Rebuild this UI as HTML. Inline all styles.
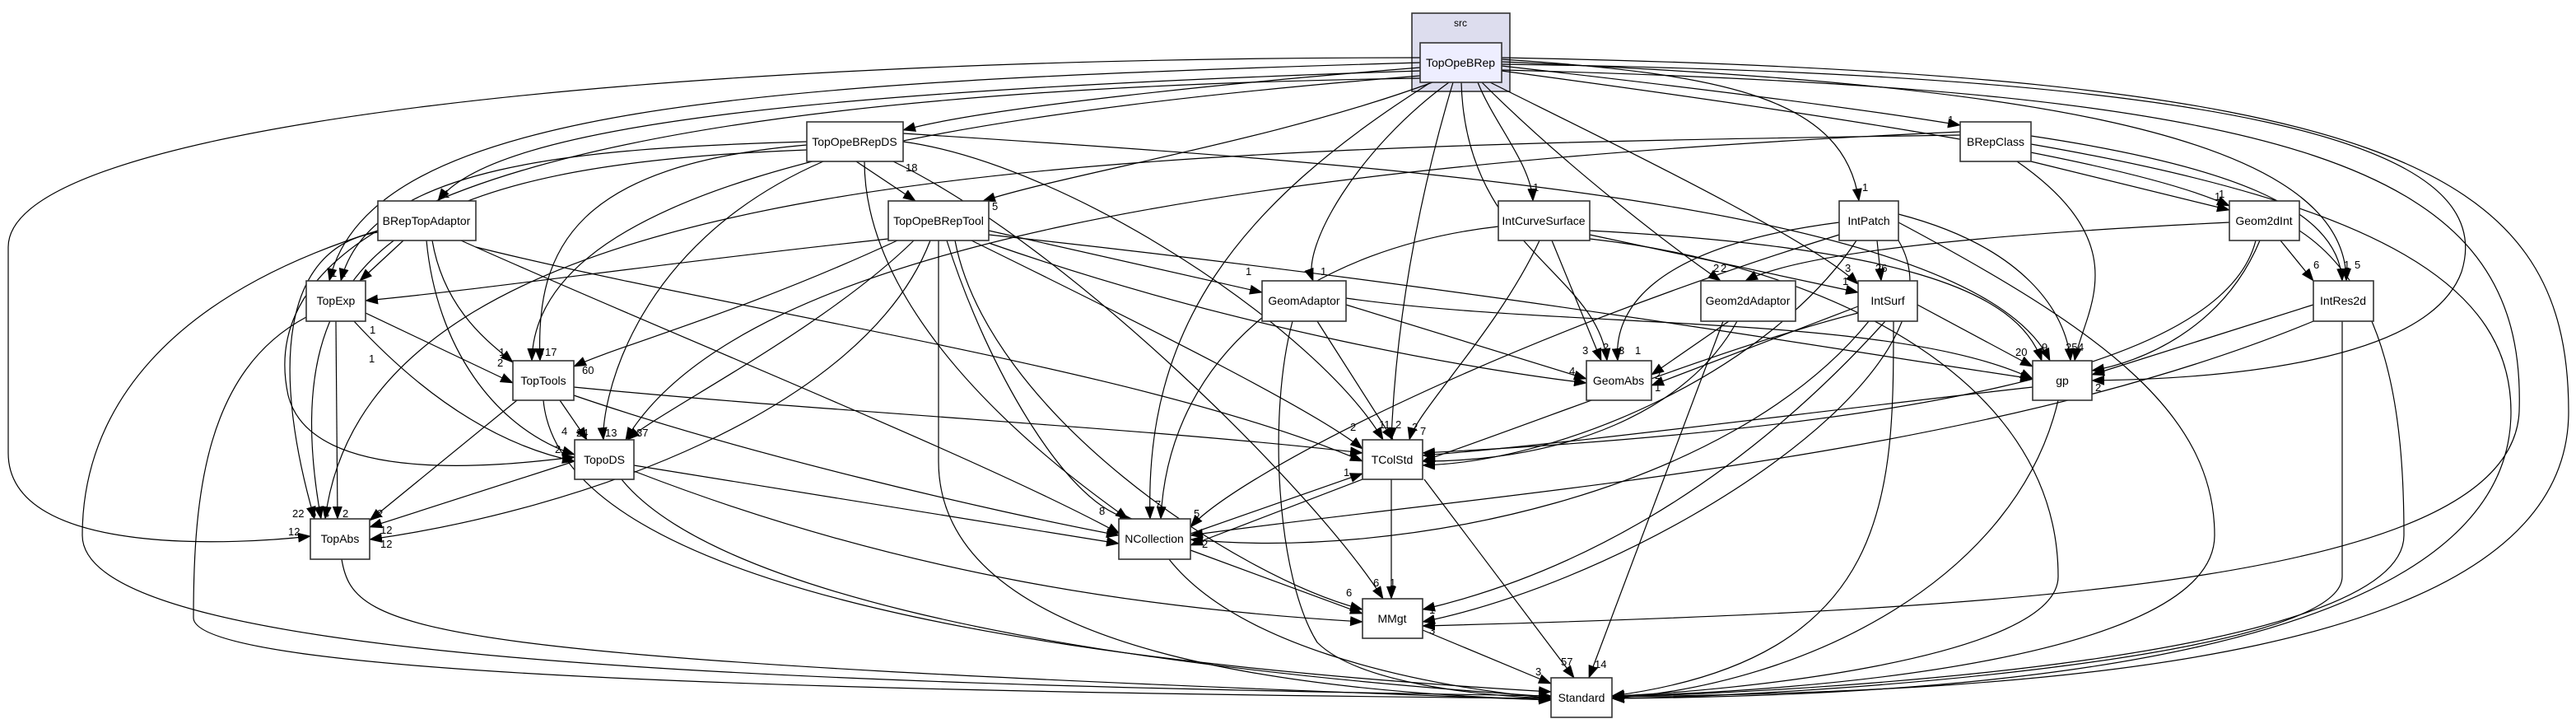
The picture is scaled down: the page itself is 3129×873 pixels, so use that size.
<!DOCTYPE html>
<html><head><meta charset="utf-8"><style>
html,body{margin:0;padding:0;background:#fff;}
svg{display:block;}
text{font-family:"Liberation Sans",Arial,sans-serif;}
.n{fill:#fff;stroke:#333;stroke-width:1.6;}
.t{font-size:14px;text-anchor:middle;dominant-baseline:central;fill:#000;}
.e{fill:none;stroke:#000;stroke-width:1.2;marker-end:url(#a);}
.l{font-size:13px;fill:#000;}
</style></head><body>
<svg width="3129" height="873" viewBox="0 0 3129 873" xmlns="http://www.w3.org/2000/svg">
<defs><marker id="a" markerUnits="userSpaceOnUse" markerWidth="16" markerHeight="12" refX="15" refY="6" orient="auto"><path d="M0,0 L16,6 L0,12 z" fill="#000"/></marker></defs>

<rect x="1715" y="16" width="119" height="95" fill="#ddddee" stroke="#333" stroke-width="1.6"/>
<text x="1774" y="28" class="t" style="font-size:12px">src</text>

<g>
<!-- TopOpeBRep edges -->
<path class="e" d="M1725,82 C1500,100 1200,130 1097,158"/>
<path class="e" d="M1824,80 C2000,100 2250,130 2381,152"/>
<path class="e" d="M1740,100 C1550,170 1300,210 1194,244"/>
<path class="e" d="M1795,100 C1815,150 1860,200 1862,244"/>
<path class="e" d="M1824,72 C2100,90 2240,120 2258,244"/>
<path class="e" d="M1824,86 C2300,150 2600,200 2708,250"/>
<path class="e" d="M1760,100 C1650,180 1580,300 1595,341"/>
<path class="e" d="M1800,100 C1900,200 2030,300 2090,341"/>
<path class="e" d="M1810,100 C1950,170 2200,290 2257,345"/>
<path class="e" d="M1824,75 C2400,100 2850,150 2850,341"/>
<path class="e" d="M1775,100 C1780,300 1940,330 1952,438"/>
<path class="e" d="M1824,78 C2700,90 3040,170 2990,330 C2950,440 2700,460 2541,462"/>
<path class="e" d="M1765,100 C1720,250 1695,400 1690,534"/>
<path class="e" d="M1738,100 C1500,250 1390,400 1397,630"/>
<path class="e" d="M1824,85 C2800,110 3070,200 3060,500 C3050,700 2500,740 1728,760"/>
<path class="e" d="M1824,70 C2900,90 3120,200 3120,500 C3120,800 2500,840 1958,846"/>
<path class="e" d="M1725,70 C800,70 10,150 10,300 L10,550 C10,680 300,660 377,651"/>
<path class="e" d="M1725,76 C900,100 450,130 400,341"/>
<path class="e" d="M1725,86 C1000,110 600,150 532,244"/>
<path class="e" d="M1725,92 C1000,150 650,250 646,438"/>
<path class="e" d="M1725,95 C700,110 300,250 350,480 C380,600 650,560 698,555"/>
<!-- DS -->
<path class="e" d="M1040,196 L1112,244"/>
<path class="e" d="M980,172 C700,180 450,200 414,341"/>
<path class="e" d="M980,176 C700,200 650,300 656,438"/>
<path class="e" d="M1000,196 C760,300 730,500 733,534"/>
<path class="e" d="M980,182 C500,200 330,300 390,630"/>
<path class="e" d="M1050,196 C1050,400 1300,580 1370,630"/>
<path class="e" d="M1097,172 C1300,200 1600,400 1680,534"/>
<path class="e" d="M1085,196 C1300,300 1600,600 1680,727"/>
<path class="e" d="M1097,162 C1700,200 2400,250 2490,438"/>
<!-- BTA -->
<path class="e" d="M490,292 L437,341"/>
<path class="e" d="M525,292 C540,380 600,420 623,440"/>
<path class="e" d="M518,292 C530,420 600,520 698,552"/>
<path class="e" d="M459,282 C340,300 330,450 382,630"/>
<path class="e" d="M560,292 C800,400 1200,560 1360,648"/>
<path class="e" d="M578,300 C900,380 1400,450 1655,560"/>
<path class="e" d="M459,280 C200,360 100,500 100,650 C100,800 900,830 1884,845"/>
<!-- BC -->
<path class="e" d="M2381,160 C1500,200 900,300 760,534"/>
<path class="e" d="M2381,164 C1300,180 450,200 395,630"/>
<path class="e" d="M2450,196 C2600,300 2530,380 2520,438"/>
<path class="e" d="M2467,196 L2708,255"/>
<path class="e" d="M2467,165 C2700,200 2840,250 2845,341"/>
<path class="e" d="M2467,175 C2900,250 3050,350 3050,500 C3050,800 2400,845 1958,848"/>
<!-- TT -->
<path class="e" d="M1079,290 C800,320 600,350 444,365"/>
<path class="e" d="M1090,292 C900,380 750,420 697,445"/>
<path class="e" d="M1110,292 C1000,400 800,500 762,534"/>
<path class="e" d="M1130,292 C1050,500 700,620 449,655"/>
<path class="e" d="M1150,292 C1200,450 1300,620 1375,630"/>
<path class="e" d="M1180,292 C1400,400 1600,500 1655,545"/>
<path class="e" d="M1201,280 L1533,355"/>
<path class="e" d="M1201,295 C1500,400 1800,450 1927,465"/>
<path class="e" d="M1201,285 C1800,350 2200,420 2469,460"/>
<path class="e" d="M1160,292 C1200,500 1500,700 1655,740"/>
<path class="e" d="M1140,292 L1140,560 C1140,800 1600,840 1884,850"/>
<!-- ICS -->
<path class="e" d="M1820,275 C1600,300 1420,420 1410,630"/>
<path class="e" d="M1870,292 C1820,400 1720,500 1712,534"/>
<path class="e" d="M1885,292 L1945,438"/>
<path class="e" d="M1931,285 L2257,355"/>
<path class="e" d="M1931,280 C2300,300 2450,350 2480,438"/>
<path class="e" d="M1931,290 C2200,320 2500,450 2500,700 C2500,800 2100,840 1958,845"/>
<!-- GA -->
<path class="e" d="M1635,370 L1927,460"/>
<path class="e" d="M1600,390 L1692,534"/>
<path class="e" d="M1635,362 C1900,400 2300,380 2469,460"/>
<path class="e" d="M1570,390 C1540,500 1550,700 1600,780 C1650,830 1800,845 1884,848"/>
<!-- G2A -->
<path class="e" d="M2100,390 L2006,455"/>
<path class="e" d="M2110,390 C2050,500 1900,560 1728,560"/>
<path class="e" d="M2093,390 L1930,823"/>
<!-- IP -->
<path class="e" d="M2234,270 C2000,300 1960,380 1965,438"/>
<path class="e" d="M2280,292 L2285,341"/>
<path class="e" d="M2306,260 C2460,300 2510,380 2515,438"/>
<path class="e" d="M2234,285 C1800,420 1500,580 1446,640"/>
<path class="e" d="M2255,292 C2150,450 1900,560 1728,565"/>
<path class="e" d="M2306,292 C2400,450 2000,700 1728,755"/>
<path class="e" d="M2306,270 C2550,400 2690,500 2690,650 C2690,800 2200,840 1958,845"/>
<!-- IS -->
<path class="e" d="M2329,370 L2469,445"/>
<path class="e" d="M2270,390 C2100,600 1700,680 1446,655"/>
<path class="e" d="M2257,380 C2100,420 1900,500 1728,560"/>
<path class="e" d="M2290,390 C2100,600 1900,700 1728,740"/>
<path class="e" d="M2300,390 C2300,600 2300,800 1958,845"/>
<path class="e" d="M2257,372 L2006,468"/>
<!-- G2I -->
<path class="e" d="M2770,292 L2810,341"/>
<path class="e" d="M2745,292 C2700,400 2600,440 2541,450"/>
<path class="e" d="M2740,292 C2700,450 2300,520 1728,550"/>
<path class="e" d="M2708,270 C2500,280 2200,300 2120,341"/>
<path class="e" d="M2793,280 C2900,350 2920,500 2920,650 C2920,800 2200,840 1958,846"/>
<!-- IR -->
<path class="e" d="M2810,370 L2541,455"/>
<path class="e" d="M2810,390 C2400,560 1800,600 1446,650"/>
<path class="e" d="M2845,390 L2845,700 C2845,800 2200,845 1958,848"/>
<!-- gp -->
<path class="e" d="M2469,470 C2200,500 1900,540 1728,553"/>
<path class="e" d="M2500,486 C2450,700 2200,830 1958,848"/>
<!-- TE -->
<path class="e" d="M444,380 L623,465"/>
<path class="e" d="M430,390 C550,520 650,550 698,560"/>
<path class="e" d="M408,390 L410,630"/>
<path class="e" d="M372,385 C250,450 235,600 235,750 C235,820 1000,840 1884,848"/>
<!-- TTo -->
<path class="e" d="M680,486 L713,534"/>
<path class="e" d="M628,486 L449,632"/>
<path class="e" d="M697,470 C1000,500 1400,520 1655,550"/>
<path class="e" d="M697,480 C900,550 1200,620 1359,650"/>
<path class="e" d="M660,486 C680,700 1200,800 1884,840"/>
<!-- TopoDS -->
<path class="e" d="M698,560 L449,640"/>
<path class="e" d="M770,565 L1359,660"/>
<path class="e" d="M770,572 C1100,700 1400,740 1655,755"/>
<path class="e" d="M755,582 C850,700 1200,800 1884,846"/>
<!-- misc -->
<path class="e" d="M415,679 C430,770 500,800 1884,850"/>
<path class="e" d="M1446,648 L1655,575"/>
<path class="e" d="M1655,582 L1446,662"/>
<path class="e" d="M1446,668 L1655,745"/>
<path class="e" d="M1420,679 C1500,780 1700,830 1884,848"/>
<path class="e" d="M1690,582 L1690,727"/>
<path class="e" d="M1730,582 L1912,823"/>
<path class="e" d="M1728,765 L1884,830"/>
</g>

<!-- nodes -->
<rect class="n" x="1725" y="52" width="99" height="48" style="fill:#eeeeff"/><text class="t" x="1774" y="76">TopOpeBRep</text>
<rect class="n" x="980" y="148" width="117" height="48"/><text class="t" x="1038" y="172">TopOpeBRepDS</text>
<rect class="n" x="2381" y="148" width="86" height="48"/><text class="t" x="2424" y="172">BRepClass</text>
<rect class="n" x="459" y="244" width="119" height="48"/><text class="t" x="518" y="268">BRepTopAdaptor</text>
<rect class="n" x="1079" y="244" width="122" height="48"/><text class="t" x="1140" y="268">TopOpeBRepTool</text>
<rect class="n" x="1820" y="244" width="111" height="48"/><text class="t" x="1875" y="268">IntCurveSurface</text>
<rect class="n" x="2234" y="244" width="72" height="48"/><text class="t" x="2270" y="268">IntPatch</text>
<rect class="n" x="2708" y="244" width="85" height="48"/><text class="t" x="2750" y="268">Geom2dInt</text>
<rect class="n" x="372" y="341" width="72" height="49"/><text class="t" x="408" y="365">TopExp</text>
<rect class="n" x="1533" y="341" width="102" height="49"/><text class="t" x="1584" y="365">GeomAdaptor</text>
<rect class="n" x="2066" y="341" width="115" height="49"/><text class="t" x="2123" y="365">Geom2dAdaptor</text>
<rect class="n" x="2257" y="341" width="72" height="49"/><text class="t" x="2293" y="365">IntSurf</text>
<rect class="n" x="2810" y="341" width="73" height="49"/><text class="t" x="2846" y="365">IntRes2d</text>
<rect class="n" x="623" y="438" width="74" height="48"/><text class="t" x="660" y="462">TopTools</text>
<rect class="n" x="1927" y="438" width="79" height="48"/><text class="t" x="1966" y="462">GeomAbs</text>
<rect class="n" x="2469" y="438" width="72" height="48"/><text class="t" x="2505" y="462">gp</text>
<rect class="n" x="698" y="534" width="72" height="48"/><text class="t" x="734" y="558">TopoDS</text>
<rect class="n" x="1655" y="534" width="73" height="48"/><text class="t" x="1691" y="558">TColStd</text>
<rect class="n" x="377" y="630" width="72" height="49"/><text class="t" x="413" y="654">TopAbs</text>
<rect class="n" x="1359" y="630" width="87" height="49"/><text class="t" x="1402" y="654">NCollection</text>
<rect class="n" x="1655" y="727" width="73" height="48"/><text class="t" x="1691" y="751">MMgt</text>
<rect class="n" x="1884" y="823" width="74" height="48"/><text class="t" x="1921" y="847">Standard</text>

<!-- labels -->
<g class="l">
<text x="1100" y="208">18</text><text x="2366" y="150">1</text><text x="1205" y="255">5</text>
<text x="1862" y="232">1</text><text x="2262" y="232">1</text><text x="2695" y="240">1</text>
<text x="1604" y="334">1</text><text x="1513" y="334">1</text><text x="2090" y="330">2</text>
<text x="1098" y="240">4</text><text x="539" y="240">1</text><text x="402" y="336">1</text><text x="413" y="336">1</text>
<text x="449" y="405">1</text><text x="448" y="440">1</text><text x="653" y="432">6</text><text x="662" y="432">17</text>
<text x="606" y="432">1</text><text x="604" y="445">2</text><text x="707" y="454">60</text>
<text x="700" y="530">24</text><text x="735" y="530">13</text><text x="762" y="530">3</text><text x="773" y="530">37</text>
<text x="682" y="528">4</text><text x="674" y="550">2</text>
<text x="377" y="628">6</text><text x="393" y="628">4</text><text x="416" y="628">2</text><text x="458" y="628">2</text>
<text x="355" y="628">22</text><text x="350" y="650">12</text><text x="462" y="648">12</text><text x="462" y="665">12</text>
<text x="1335" y="625">8</text><text x="1403" y="617">7</text><text x="1450" y="628">5</text><text x="1460" y="665">2</text>
<text x="1640" y="523">2</text><text x="1675" y="520">11</text><text x="1695" y="520">2</text><text x="1715" y="523">2</text><text x="1725" y="528">7</text>
<text x="1632" y="578">1</text><text x="1688" y="712">1</text><text x="1668" y="712">6</text><text x="1635" y="724">6</text>
<text x="1736" y="745">1</text><text x="1736" y="770">3</text><text x="1865" y="820">3</text><text x="1896" y="808">57</text><text x="1937" y="811">14</text>
<text x="1922" y="430">3</text><text x="1947" y="426">2</text><text x="1966" y="430">3</text><text x="1986" y="430">1</text>
<text x="2010" y="460">2</text><text x="2010" y="475">1</text><text x="1906" y="455">4</text>
<text x="2241" y="330">3</text><text x="2278" y="330">26</text><text x="2238" y="346">1</text>
<text x="2448" y="432">20</text><text x="2480" y="426">9</text><text x="2509" y="426">25</text><text x="2524" y="426">4</text>
<text x="2545" y="475">2</text><text x="2810" y="326">6</text><text x="2847" y="326">1</text><text x="2860" y="326">5</text>
<text x="2081" y="330">2</text><text x="2690" y="243">1</text>
</g>
</svg>
</body></html>
